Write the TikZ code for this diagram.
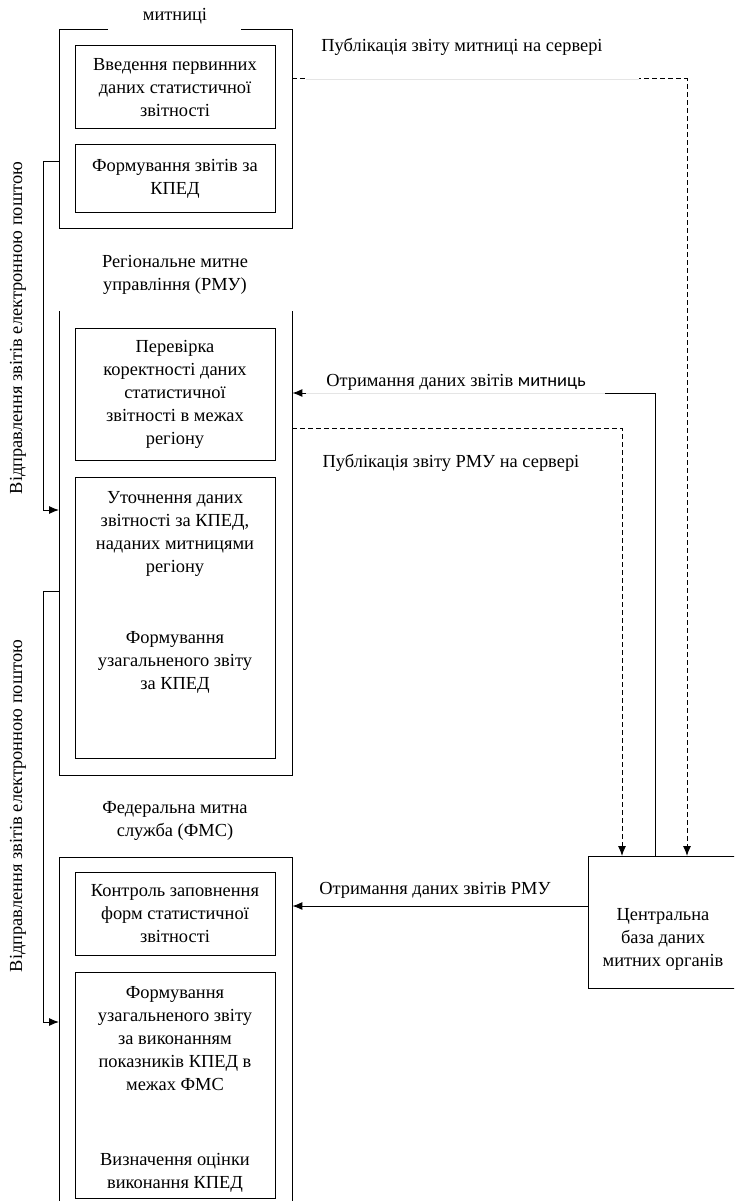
\documentclass[tikz,border=0pt]{standalone}
\usepackage{fontspec}
\setmainfont{Liberation Serif}
\newfontfamily\carlito{Carlito}
\usetikzlibrary{arrows.meta,calc}

\begin{document}
\begin{tikzpicture}[x=1pt,y=-1pt,
  every node/.style={font=\fontsize{18.4}{23}\selectfont},
  box/.style={draw, line width=1pt, inner sep=0pt, minimum width=200pt, align=center},
  frame/.style={inner sep=0pt, minimum width=233pt, anchor=north west},
  edge/.style={line width=1pt},
  lbl/.style={align=center, inner sep=0pt},
  link/.style={line width=1pt, -{Latex[length=10pt,width=8pt]}},
  pub/.style={link, dash pattern=on 4.5pt off 3.5pt},
  faint/.style={line width=0.6pt, black!10},
  mask/.style={line width=2.4pt, white}]

\useasboundingbox (0,0) rectangle (734,1201);
\clip (0,0) rectangle (734,1201);

% --- customs office ---
\node[frame, minimum height=198pt] (o1) at (59,30) {};
\draw[edge] (108,30) -- (o1.north west) -- (o1.south west) -- (o1.south east) -- (o1.north east) -- (241,30);
\node[lbl] (t1) at (175,16) {митниці};
\node[box, minimum height=83pt] (b1) at (175,87.5) {Введення первинних\\даних статистичної\\звітності};
\node[box, minimum height=67pt] (b2) at (175,178.5) {Формування звітів за\\КПЕД};

% --- regional administration ---
\node[frame, minimum height=464pt] (o2) at (59,311) {};
\draw[edge] (o2.north west) -- (o2.south west) -- (o2.south east) -- (o2.north east);
\node[lbl] (t2) at (175,275) {Регіональне митне\\управління (РМУ)};
\node[box, minimum height=132pt] (b3) at (175,394) {Перевірка\\коректності даних\\статистичної\\звітності в межах\\регіону};
\node[box, minimum height=281pt, anchor=north] (b4) at (175,477) {};
\node[lbl, anchor=north] (b4a) at ($(b4.north)+(0,14)$) {Уточнення даних\\звітності за КПЕД,\\наданих митницями\\регіону};
\node[lbl] (b4b) at (175,662) {Формування\\узагальненого звіту\\за КПЕД};

% --- federal service ---
\node[frame, minimum height=360pt] (o3) at (59,857) {};
\draw[edge] (o3.south west) -- (o3.north west) -- (o3.north east) -- (o3.south east);
\node[lbl] (t3) at (175,821) {Федеральна митна\\служба (ФМС)};
\node[box, minimum height=83pt] (b5) at (175,913.5) {Контроль заповнення\\форм статистичної\\звітності};
\node[box, minimum height=226pt, anchor=north] (b6) at (175,972) {};
\node[lbl] (b6a) at (175,1038.5) {Формування\\узагальненого звіту\\за виконанням\\показників КПЕД в\\межах ФМС};
\node[lbl] (b6b) at (175,1173) {Визначення оцінки\\виконання КПЕД};

% --- central database ---
\node[draw, line width=1pt, inner sep=0pt, minimum width=160pt, minimum height=132pt, anchor=north west] (db) at (588,856) {};
\node[lbl] (dbt) at (663,939) {Центральна\\база даних\\митних органів};

% --- e-mail links on the left ---
\coordinate (k1) at (43,162);
\coordinate (k2) at (43,510);
\coordinate (k3) at (43,591);
\coordinate (k4) at (43,1022);
\draw[link] (o1.west |- k1) -- (k1) -- (k2) -- (o2.west |- k2);
\draw[link] (o2.west |- k3) -- (k3) -- (k4) -- (o3.west |- k4);
\node[lbl, rotate=90] (v1) at (18,328) {Відправлення звітів електронною поштою};
\node[lbl, rotate=90] (v2) at (18,806) {Відправлення звітів електронною поштою};

% --- server links on the right ---
\coordinate (d1) at (687,79);
\draw[pub] (o1.east |- d1) -- (d1) -- (db.north -| d1);
\draw[mask] (306,79) -- (639,79);
\draw[faint] (306,79) -- (639,79);
\node[lbl] (l1) at (462,47) {Публікація звіту митниці на сервері};

\coordinate (r1) at (655,393);
\draw[link] (db.north -| r1) -- (r1) -- (o2.east |- r1);
\draw[mask] (306,393) -- (605,393);
\draw[faint] (306,393) -- (605,393);
\node[lbl] (l2) at (456,382) {Отримання даних звітів {\carlito митниць}};

\coordinate (d2) at (622,428);
\draw[pub] (o2.east |- d2) -- (d2) -- (db.north -| d2);
\node[lbl] (l3) at (451,463) {Публікація звіту РМУ на сервері};

\coordinate (r2) at (588,906);
\draw[link] (db.west |- r2) -- (o3.east |- r2);
\node[lbl] (l4) at (435,890) {Отримання даних звітів РМУ};

\end{tikzpicture}
\end{document}
